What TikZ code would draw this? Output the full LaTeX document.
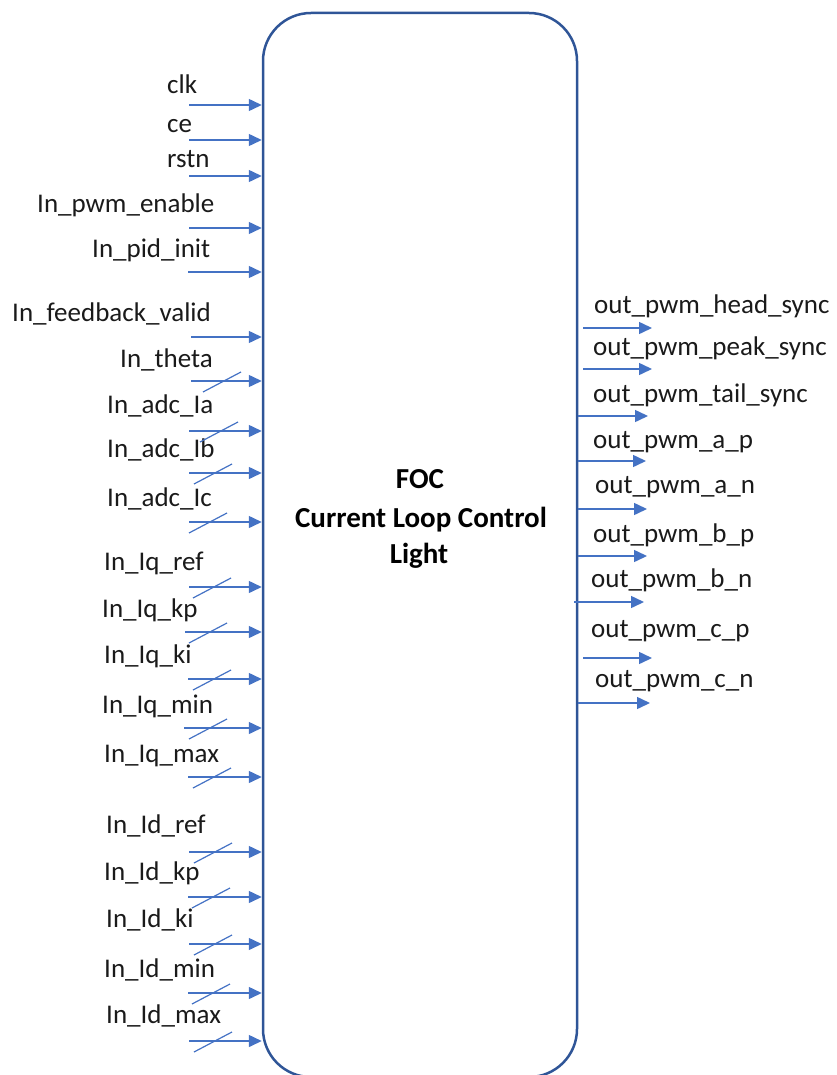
\documentclass[tikz,border=0pt]{standalone}
\usepackage{fontspec}
\setmainfont{Carlito}
\usetikzlibrary{arrows.meta}
\definecolor{boxblue}{HTML}{2F5597}
\definecolor{arrblue}{HTML}{4472C4}
\definecolor{txt}{HTML}{1A1A1A}
\begin{document}
\begin{tikzpicture}[x=1pt,y=-1pt,
  sig/.style={draw=arrblue, line width=1.5pt, -{Triangle[length=13pt,width=12pt]}},
  lab/.style={font=\fontsize{27}{32}\selectfont, text=txt, inner sep=0pt},
  ttl/.style={font=\fontsize{29}{34}\selectfont\bfseries, text=black, inner sep=0pt},
  busmark/.style={draw=arrblue, line width=1.2pt}]
\useasboundingbox (0,0) rectangle (837,1075);
\node[draw=boxblue, line width=2.5pt, rounded corners=48pt, minimum width=314pt,
      minimum height=1064pt, inner sep=0pt] (box) at (420,545) {};
\node[ttl, anchor=base] (t1) at (420,488) {FOC};
\node[ttl, anchor=base] (t2) at (421,527) {Current Loop Control};
\node[ttl, anchor=base] (t3) at (419,563) {Light};
% inputs
\foreach \i/\t/\lx/\by/\ax/\ay in {
  1/clk/167/94/189/105,
  2/ce/167/133/189/140,
  3/rstn/167/168/189/176,
  4/In\_pwm\_enable/37/213/189/228,
  5/In\_pid\_init/92/257/188/272,
  6/In\_feedback\_valid/12/321/191/337,
  7/In\_theta/120/367/191/381,
  8/In\_adc\_Ia/107/413/189/431,
  9/In\_adc\_Ib/107/457/189/473,
  10/In\_adc\_Ic/107/506/189/522,
  11/In\_Iq\_ref/104/570/189/587,
  12/In\_Iq\_kp/102/617/185/632,
  13/In\_Iq\_ki/104/663/188/679,
  14/In\_Iq\_min/102/713/184/728,
  15/In\_Iq\_max/104/762/188/777,
  16/In\_Id\_ref/106/833/189/852,
  17/In\_Id\_kp/104/880/188/897,
  18/In\_Id\_ki/106/927/189/944,
  19/In\_Id\_min/104/977/188/993,
  20/In\_Id\_max/106/1023/189/1041}{
  \node[lab, anchor=base west] (il\i) at (\lx,\by) {\t};
  \coordinate (is\i) at (\ax,\ay);
  \draw[sig] (is\i) -- (is\i -| box.west);
}
% bus marks
\foreach \i/\dx in {7/12, 8/11, 9/5, 10/0, 11/4, 12/4, 13/5, 14/5, 15/5,
                    16/5, 17/4, 18/5, 19/4, 20/5}{
  \draw[busmark] (is\i) ++(\dx,11) -- ++(38,-20);
}
% outputs
\foreach \i/\t/\lx/\by/\sh/\ex/\ay in {
  1/out\_pwm\_head\_sync/594/313/5/652/328,
  2/out\_pwm\_peak\_sync/593/355/5/652/369,
  3/out\_pwm\_tail\_sync/593/402/0/648/416,
  4/out\_pwm\_a\_p/593/448/0/646/461,
  5/out\_pwm\_a\_n/595/493/0/647/509,
  6/out\_pwm\_b\_p/593/542/0/647/556,
  7/out\_pwm\_b\_n/591/587/-4/644/602,
  8/out\_pwm\_c\_p/591/637/5/652/658,
  9/out\_pwm\_c\_n/595/687/0/650/703}{
  \node[lab, anchor=base west] (ol\i) at (\lx,\by) {\t};
  \coordinate (oe\i) at (\ex,\ay);
  \draw[sig, shorten <=\sh pt] (box.east |- oe\i) -- (oe\i);
}
\end{tikzpicture}
\end{document}
